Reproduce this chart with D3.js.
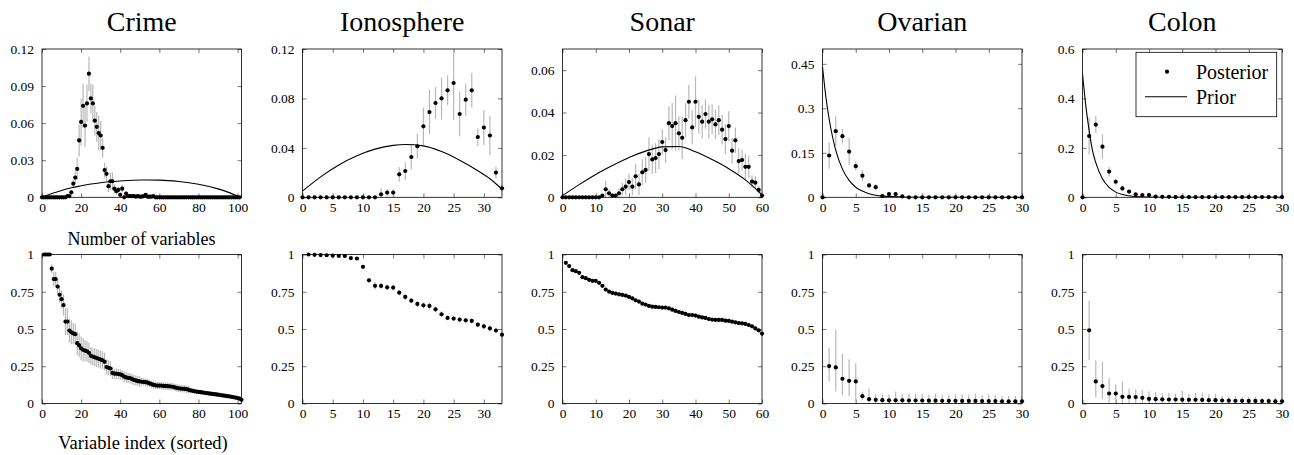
<!DOCTYPE html>
<html><head><meta charset="utf-8">
<script src="https://cdn.jsdelivr.net/npm/d3@7"></script>
<style>
body{margin:0;background:#fff}
svg{display:block}
text{font-family:"Liberation Serif","Times New Roman",serif;fill:#000}
</style>
</head><body>
<svg id="c" width="1294" height="455"></svg>
<script>
// ---------- DATA ----------
const titles = ["Crime", "Ionosphere", "Sonar", "Ovarian", "Colon"];

// Top row: posterior over number of variables (x starts at 0)
const crimeTopMean = [0,0,0,0,0,0,0,0,0,0,0,0,0,
 0.001,0.001,0.004,0.011,0.016,0.023,0.046,0.061,0.074,0.058,0.076,0.100,0.080,0.076,0.062,0.057,0.052,0.050,0.040,0.022,0.019,0.009,0.013,0.013,0.007,0.005,0.006,0.002,0.007,0.000,0.003,0.001,0.001,0.001,0.001,0.0005,0.001,0.0005,0.0005,0.001,0.002,0.0005,0.0005,0.0005,0.001,
 0,0,0,0,0,0,0,0,0,0,0,0,0,0,0,0,0,0,0,0,0,0,0,0,0,0,0,0,0,0,0,0,0,0,0,0,0,0,0,0,0,0,0,0];
const crimeTopErr = [0,0,0,0,0,0,0,0,0,0,0,0,0,
 0,0,0.002,0.003,0.005,0.009,0.013,0.019,0.018,0.017,0.015,0.014,0.012,0.015,0.012,0.012,0.014,0.012,0.008,0.006,0.006,0.005,0.007,0.007,0.004,0.003,0.003,0.002,0.003,0,0.002,0,0,0,0,0,0,0,0,0,0,0,0,0,0,
 0,0,0,0,0,0,0,0,0,0,0,0,0,0,0,0,0,0,0,0,0,0,0,0,0,0,0,0,0,0,0,0,0,0,0,0,0,0,0,0,0,0,0,0];
const ionoTopMean = [0,0,0,0,0,0,0,0,0,0,0,0,0,
 0.0024,0.0038,0.0038,0.0186,0.0213,0.0326,0.0413,0.0574,0.069,0.0763,0.080,0.0866,0.0925,0.0674,0.079,0.0866,0.0488,0.0564,0.050,0.020,0.0073];
const ionoTopErr = [0,0,0,0,0,0,0,0,0,0,0,0,0,
 0.005,0.003,0.003,0.006,0.007,0.010,0.010,0.015,0.018,0.013,0.017,0.012,0.030,0.018,0.013,0.014,0.007,0.014,0.016,0.005,0.003];
const sonarTopMean = [0,0,0,0,0,0,0,0,0,0,0,0,
 0.0008,0.0038,0.0019,0.0008,0.0008,0.0019,0.0038,0.005,0.0072,0.005,0.0099,0.0061,0.0118,0.0129,0.0204,0.0179,0.0185,0.0204,0.0261,0.0223,0.035,0.0336,0.035,0.0302,0.0281,0.0364,0.0451,0.033,0.0451,0.038,0.0357,0.0393,0.0357,0.0368,0.0344,0.0364,0.0319,0.0275,0.0336,0.022,0.0269,0.0171,0.0176,0.0144,0.0144,0.0074,0.0069,0.0035,0.0008];
const sonarTopErr = [0,0,0,0,0,0,0,0,0,0,0,0,
 0,0.004,0.002,0.001,0.001,0.002,0.003,0.004,0.004,0.004,0.006,0.005,0.006,0.006,0.008,0.007,0.007,0.007,0.006,0.006,0.008,0.011,0.013,0.008,0.010,0.008,0.008,0.008,0.012,0.008,0.008,0.007,0.008,0.007,0.007,0.007,0.007,0.007,0.007,0.006,0.006,0.006,0.005,0.006,0.005,0.003,0.003,0.002,0.001];
const ovarTopMean = [0,0.141,0.223,0.206,0.154,0.105,0.073,0.040,0.034,0.004,0.011,0.011,0.003,
 0,0,0,0,0,0,0,0,0,0,0,0,0,0,0,0,0,0];
const ovarTopErr = [0,0.045,0.05,0.025,0.045,0.015,0.018,0.01,0.01,0.003,0.004,0.004,0.002,
 0,0,0,0,0,0,0,0,0,0,0,0,0,0,0,0,0,0];
const colonTopMean = [0,0.248,0.294,0.205,0.104,0.063,0.036,0.023,0.012,0.009,0.009,0.003,0.002,0.002,
 0.001,0.001,0.001,0.001,0.001,0.001,0.001,0.001,0.001,0.001,0.001,0.001,0.001,0.001,0.001,0.001,0.001];
const colonTopErr = [0,0.075,0.035,0.05,0.02,0.012,0.012,0.008,0.005,0.004,0.004,
 0,0,0,0,0,0,0,0,0,0,0,0,0,0,0,0,0,0,0,0];

// Prior curves (at these x positions)
const crimePriorX = [0,5,10,15,20,25,30,40,50,60,70,80,90,95,101];
const crimePriorY = [0,0.0030,0.0055,0.0077,0.0093,0.0107,0.0118,0.0132,0.0140,0.0139,0.0128,0.0105,0.0068,0.0042,0.0003];
const ionoPriorX = [0,3,6,9,12,15,17,20,23,26,29,31,33];
const ionoPriorY = [0.005,0.0165,0.0262,0.0337,0.0390,0.0420,0.0427,0.0416,0.0370,0.0300,0.0215,0.0150,0.0065];
const sonarPriorX = [0,5,10,15,20,25,30,35,40,45,50,55,60];
const sonarPriorY = [0.0008,0.0060,0.0108,0.0150,0.0188,0.0218,0.0238,0.0240,0.0215,0.0178,0.0135,0.0082,0.0012];
const ovarPriorX = [0,0.5,1,1.5,2,3,4,5,6,7,8,9,10,12,15,30];
const ovarPriorY = [0.44,0.34,0.264,0.205,0.158,0.095,0.057,0.034,0.021,0.012,0.007,0.004,0.003,0.001,0,0];
const colonPriorX = [0,0.5,1,1.5,2,3,4,5,6,7,8,10,12,30];
const colonPriorY = [0.5,0.37,0.27,0.19,0.14,0.075,0.04,0.021,0.011,0.006,0.003,0.001,0,0];

// Bottom row: inclusion probability by sorted variable index (x starts at 1)
const crimeBotMean = [1,1,1,1,0.905,0.835,0.835,0.785,0.73,0.70,0.66,0.55,0.55,0.49,0.478,0.47,0.465,0.405,0.39,0.37,
 0.36,0.355,0.35,0.34,0.32,0.315,0.31,0.305,0.30,0.295,0.29,0.28,0.245,0.24,0.235,0.205,0.20,0.20,0.198,0.195,
 0.19,0.18,0.175,0.172,0.17,0.165,0.158,0.155,0.15,0.148,0.146,0.145,0.143,0.14,0.135,0.13,0.125,0.122,0.12,0.12,
 0.12,0.118,0.117,0.116,0.115,0.114,0.112,0.108,0.104,0.102,0.1,0.099,0.098,0.096,0.092,0.088,0.085,0.082,0.08,0.078,
 0.076,0.074,0.072,0.07,0.068,0.066,0.065,0.063,0.061,0.059,0.057,0.055,0.053,0.051,0.049,0.047,0.045,0.042,0.04,0.037,
 0.033,0.025];
const crimeBotErr = [0,0,0,0,0.03,0.05,0.05,0.05,0.05,0.06,0.07,0.09,0.09,0.08,0.08,0.07,0.07,0.08,0.08,0.08,
 0.08,0.07,0.07,0.07,0.06,0.06,0.06,0.06,0.06,0.06,0.06,0.06,0.05,0.05,0.05,0.04,0.035,0.035,0.035,0.035,
 0.035,0.035,0.035,0.035,0.035,0.035,0.035,0.035,0.035,0.035,0.025,0.025,0.025,0.025,0.025,0.025,0.025,0.025,0.025,0.025,
 0.025,0.025,0.025,0.025,0.025,0.025,0.025,0.025,0.025,0.025,0.025,0.025,0.025,0.025,0.025,0.015,0.015,0.015,0.015,0.015,
 0.015,0.015,0.015,0.015,0.015,0.015,0.015,0.015,0.015,0.015,0.015,0.015,0.015,0.015,0.015,0.015,0.015,0.015,0.015,0.015,
 0.015,0.015];
const ionoBotMean = [1.0,0.998,0.996,0.995,0.993,0.99,0.99,0.976,0.973,0.917,0.827,0.79,0.789,0.78,0.778,0.744,0.715,0.69,0.668,0.659,
 0.655,0.632,0.599,0.574,0.57,0.563,0.558,0.554,0.529,0.518,0.504,0.49,0.462];
const ionoBotErr = [0.002,0.003,0.004,0.005,0.006,0.007,0.008,0.01,0.01,0.012,0.015,0.025,0.02,0.02,0.02,0.02,0.02,0.015,0.02,0.02,
 0.025,0.02,0.02,0.015,0.015,0.015,0.015,0.015,0.015,0.02,0.02,0.02,0.02];
const sonarBotMean = [0.944,0.922,0.895,0.888,0.877,0.848,0.841,0.83,0.823,0.823,0.81,0.79,0.765,0.751,0.742,0.738,0.733,0.729,0.724,0.715,
 0.706,0.693,0.684,0.67,0.664,0.655,0.65,0.648,0.646,0.644,0.644,0.639,0.63,0.621,0.614,0.608,0.601,0.594,0.594,0.59,
 0.583,0.578,0.574,0.567,0.563,0.561,0.561,0.561,0.556,0.554,0.549,0.545,0.54,0.538,0.534,0.527,0.518,0.504,0.491,0.469];
const sonarBotErr = [0.01,0.01,0.01,0.01,0.01,0.012,0.012,0.012,0.012,0.012,0.012,0.012,0.012,0.012,0.012,0.012,0.012,0.012,0.012,0.012,
 0.012,0.012,0.012,0.012,0.012,0.012,0.012,0.012,0.012,0.012,0.012,0.012,0.012,0.012,0.012,0.012,0.012,0.012,0.012,0.012,
 0.012,0.012,0.012,0.012,0.012,0.012,0.014,0.012,0.012,0.012,0.012,0.012,0.012,0.012,0.012,0.012,0.012,0.012,0.012,0.012];
const ovarBotMean = [0.251,0.242,0.166,0.152,0.148,0.049,0.029,0.025,0.022,0.021,0.021,0.021,0.02,0.02,0.02,0.019,0.019,0.018,0.018,0.018,
 0.017,0.017,0.017,0.016,0.016,0.016,0.015,0.015,0.015,0.015];
const ovarBotLo = [0.15,0.08,0.055,0.05,0.01,0.02,0,0,0,0,0,0,0,0,0,0,0,0,0,0,0,0,0,0,0,0,0,0,0,0];
const ovarBotHi = [0.375,0.495,0.335,0.295,0.27,0.08,0.1,0.06,0.06,0.06,0.08,0.06,0.065,0.065,0.065,0.06,0.065,0.06,0.06,0.06,
 0.06,0.06,0.065,0.055,0.06,0.055,0.05,0.05,0.05,0.05];
const colonBotMean = [0.491,0.148,0.117,0.067,0.067,0.045,0.044,0.043,0.038,0.031,0.029,0.028,0.027,0.027,0.026,0.025,0.025,0.024,0.022,0.022,
 0.02,0.019,0.018,0.018,0.017,0.017,0.016,0.016,0.015,0.015];
const colonBotLo = [0.29,0.04,0.03,0,0,0,0,0,0,0,0,0,0,0,0,0,0,0,0,0,0,0,0,0,0,0,0,0,0,0];
const colonBotHi = [0.69,0.29,0.28,0.17,0.13,0.145,0.10,0.095,0.09,0.08,0.075,0.07,0.07,0.065,0.085,0.065,0.07,0.07,0.06,0.065,
 0.05,0.045,0.05,0.04,0.045,0.045,0.04,0.04,0.04,0.04];

// Axis settings
const xMaxes = [102, 33, 60, 30, 30];
const xTickVals = [[0,20,40,60,80,100],[0,5,10,15,20,25,30],[0,10,20,30,40,50,60],[0,5,10,15,20,25,30],[0,5,10,15,20,25,30]];
const topYMax = [0.12, 0.12, 0.07, 0.5, 0.6];
const topYTicks = [[0,0.03,0.06,0.09,0.12],[0,0.04,0.08,0.12],[0,0.02,0.04,0.06],[0,0.15,0.3,0.45],[0,0.2,0.4,0.6]];
const botYTicks = [0,0.25,0.5,0.75,1];
const legendLabels = ["Posterior", "Prior"];

// ---------- DRAWING ----------
const svg = d3.select("#c");
const lefts = [42, 302.5, 562.5, 822.5, 1082.5];
const W = 199.5;
const rows = [{top: 49, bottom: 197.3}, {top: 254.5, bottom: 403.5}];
const fmt = d => (d === 0 ? "0" : String(+d.toFixed(3)));
const SERIF = '"Liberation Serif","Times New Roman",serif';

let clipN = 0;
function drawPanel(i, row, yMax, yTicks, points, prior) {
  const L = lefts[i], R = L + W, T = rows[row].top, B = rows[row].bottom;
  const x = d3.scaleLinear().domain([0, xMaxes[i]]).range([L, R]);
  const y = d3.scaleLinear().domain([0, yMax]).range([B, T]);
  const g = svg.append("g");
  const cid = "clip" + (clipN++);
  svg.append("clipPath").attr("id", cid).append("rect")
    .attr("x", L).attr("y", T).attr("width", W).attr("height", B - T);

  const styleAxis = (sel, labels) => {
    sel.attr("font-family", SERIF).attr("font-size", 13.5);
    sel.select(".domain").remove();
    sel.selectAll(".tick line").attr("stroke", "#555").attr("stroke-width", 0.8);
    sel.selectAll("text").style("font-family", SERIF).style("font-size", "13.5px").attr("fill", "#000");
    if (!labels) sel.selectAll("text").remove();
  };
  g.append("g").attr("transform", `translate(0,${B})`)
    .call(d3.axisBottom(x).tickValues(xTickVals[i]).tickSizeInner(-4).tickSizeOuter(0).tickPadding(5).tickFormat(d3.format("d")))
    .call(s => styleAxis(s, true));
  g.append("g").attr("transform", `translate(0,${T})`)
    .call(d3.axisTop(x).tickValues(xTickVals[i]).tickSizeInner(-4).tickSizeOuter(0))
    .call(s => styleAxis(s, false));
  g.append("g").attr("transform", `translate(${L},0)`)
    .call(d3.axisLeft(y).tickValues(yTicks).tickSizeInner(-4).tickSizeOuter(0).tickPadding(8).tickFormat(fmt))
    .call(s => styleAxis(s, true));
  g.append("g").attr("transform", `translate(${R},0)`)
    .call(d3.axisRight(y).tickValues(yTicks).tickSizeInner(-4).tickSizeOuter(0))
    .call(s => styleAxis(s, false));

  // error bars
  const pg = g.append("g").attr("clip-path", `url(#${cid})`);
  pg.selectAll("line.err").data(points.filter(p => p.hi - p.lo > 0)).join("line")
    .attr("class", "err")
    .attr("x1", p => x(p.x)).attr("x2", p => x(p.x))
    .attr("y1", p => y(p.lo)).attr("y2", p => y(p.hi))
    .attr("stroke", "#b8b8b8").attr("stroke-width", 1.2);

  // prior line
  if (prior) {
    const line = d3.line().x(d => x(d[0])).y(d => y(d[1])).curve(d3.curveMonotoneX);
    pg.append("path").datum(prior).attr("d", line)
      .attr("fill", "none").attr("stroke", "#000").attr("stroke-width", 1.1);
  }

  // frame
  g.append("rect").attr("x", L).attr("y", T).attr("width", W).attr("height", B - T)
    .attr("fill", "none").attr("stroke", "#000").attr("stroke-width", 0.8);

  // points
  g.selectAll("circle").data(points).join("circle")
    .attr("cx", p => x(p.x)).attr("cy", p => y(p.m)).attr("r", 2.1).attr("fill", "#000");
}

function symPoints(mean, err, start) {
  return mean.map((m, k) => ({x: k + start, m: m, lo: m - err[k], hi: m + err[k]}));
}
function asymPoints(mean, lo, hi, start) {
  return mean.map((m, k) => ({x: k + start, m: m, lo: lo[k], hi: hi[k]}));
}
const zipPrior = (xs, ys) => xs.map((v, k) => [v, ys[k]]);

const topData = [
  [symPoints(crimeTopMean, crimeTopErr, 0), zipPrior(crimePriorX, crimePriorY)],
  [symPoints(ionoTopMean, ionoTopErr, 0), zipPrior(ionoPriorX, ionoPriorY)],
  [symPoints(sonarTopMean, sonarTopErr, 0), zipPrior(sonarPriorX, sonarPriorY)],
  [symPoints(ovarTopMean, ovarTopErr, 0), zipPrior(ovarPriorX, ovarPriorY)],
  [symPoints(colonTopMean, colonTopErr, 0), zipPrior(colonPriorX, colonPriorY)]
];
const botData = [
  symPoints(crimeBotMean, crimeBotErr, 1),
  symPoints(ionoBotMean, ionoBotErr, 1),
  symPoints(sonarBotMean, sonarBotErr, 1),
  asymPoints(ovarBotMean, ovarBotLo, ovarBotHi, 1),
  asymPoints(colonBotMean, colonBotLo, colonBotHi, 1)
];

for (let i = 0; i < 5; i++) {
  drawPanel(i, 0, topYMax[i], topYTicks[i], topData[i][0], topData[i][1]);
  drawPanel(i, 1, 1, botYTicks, botData[i], null);
  svg.append("text").attr("x", lefts[i] + W / 2).attr("y", 31)
    .attr("text-anchor", "middle").style("font-size", "28px").text(titles[i]);
}

// row labels
svg.append("text").attr("x", 141.5).attr("y", 244.5).attr("text-anchor", "middle")
  .style("font-size", "18px").text("Number of variables");
svg.append("text").attr("x", 143).attr("y", 449).attr("text-anchor", "middle")
  .style("font-size", "18.5px").text("Variable index (sorted)");

// legend
const lg = svg.append("g");
lg.append("rect").attr("x", 1136).attr("y", 52.3).attr("width", 140.7).attr("height", 64.4)
  .attr("fill", "#fff").attr("stroke", "#000").attr("stroke-width", 0.8);
lg.append("circle").attr("cx", 1167).attr("cy", 71.7).attr("r", 2.1).attr("fill", "#000");
lg.append("line").attr("x1", 1145).attr("x2", 1187).attr("y1", 96.7).attr("y2", 96.7)
  .attr("stroke", "#000").attr("stroke-width", 1.1);
lg.selectAll("text").data(legendLabels).join("text")
  .attr("x", 1196).attr("y", (d, k) => 78.5 + k * 25).style("font-size", "20px").text(d => d);
</script>
</body></html>
